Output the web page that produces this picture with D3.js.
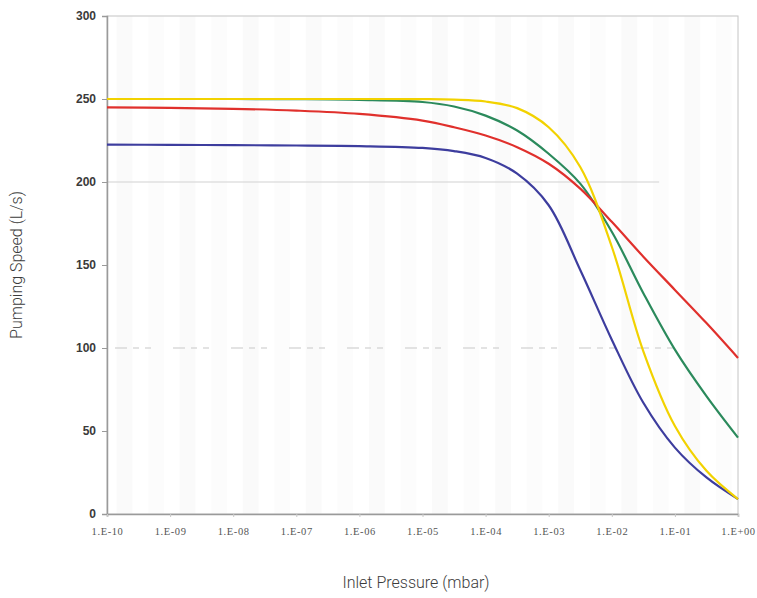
<!DOCTYPE html>
<html>
<head>
<meta charset="utf-8">
<script src="https://cdn.jsdelivr.net/npm/d3@7"></script>
<style>
  html, body { margin: 0; padding: 0; background: #fff; }
  svg { display: block; }
</style>
</head>
<body>
<svg id="chart" width="757" height="598"></svg>
<script>
// ---- data (log10 of inlet pressure in mbar) ----
const logPressure = [-10, -9, -8, -7, -6, -5, -4.5, -4, -3.5, -3, -2.5, -2, -1.5, -1, -0.5, 0];
const greenSpeed  = [250, 250, 250, 249.9, 249.5, 248.2, 245.5, 240, 231, 217, 199, 170, 133, 99, 71, 46];
const redSpeed    = [245, 244.6, 244.1, 243, 241, 237, 233, 228, 221, 211, 196, 176, 155, 135, 115, 94];
const blueSpeed   = [222.5, 222.4, 222.2, 222, 221.6, 220.5, 218.6, 214.5, 205, 186, 147, 105, 67, 40, 22, 9];
const yellowSpeed = [250, 250, 250, 250, 250, 249.9, 249.6, 248.5, 244.5, 233, 209, 161, 98, 53, 26, 9];
const seriesColors = ["#2b8a5c", "#e0302c", "#3d3d9e", "#f2d200"];
const yTicks = [0, 50, 100, 150, 200, 250, 300];
const xTickLabels = ["1.E-10","1.E-09","1.E-08","1.E-07","1.E-06","1.E-05","1.E-04","1.E-03","1.E-02","1.E-01","1.E+00"];

const series = [
  { name: "green", values: greenSpeed, color: seriesColors[0] },
  { name: "red", values: redSpeed, color: seriesColors[1] },
  { name: "blue", values: blueSpeed, color: seriesColors[2] },
  { name: "yellow", values: yellowSpeed, color: seriesColors[3] }
];

const svg = d3.select("#chart");
const m = { left: 107, right: 738, top: 16, bottom: 514 };

const x = d3.scaleLog().domain([1e-10, 1]).range([m.left, m.right]);
const y = d3.scaleLinear().domain([0, 300]).range([m.bottom, m.top]);

// faint background bands (scan texture)
const bandG = svg.append("g");
d3.range(-10, 0, 0.5).forEach((d, i) => {
  bandG.append("rect")
    .attr("x", x(Math.pow(10, d + 0.15)))
    .attr("y", m.top)
    .attr("width", 16)
    .attr("height", m.bottom - m.top)
    .attr("fill", "#000")
    .attr("opacity", i % 2 ? 0.01 : 0.018);
});

// plot border (top & right light)
svg.append("rect")
  .attr("x", m.left).attr("y", m.top)
  .attr("width", m.right - m.left).attr("height", m.bottom - m.top)
  .attr("fill", "none").attr("stroke", "#c4c4c4").attr("stroke-width", 1);

// grid-like lines
svg.append("line")
  .attr("x1", m.left).attr("x2", x(Math.pow(10, -1.25)))
  .attr("y1", y(200)).attr("y2", y(200))
  .attr("stroke", "#d2d2d2").attr("stroke-width", 1.2);
svg.append("line")
  .attr("x1", m.left + 8).attr("x2", x(Math.pow(10, -0.8)))
  .attr("y1", y(100)).attr("y2", y(100))
  .attr("stroke", "#c8c8c8").attr("stroke-width", 1.2)
  .attr("stroke-dasharray", "12,6,6,6,6,22");

// axes
const yAxis = d3.axisLeft(y).tickValues(yTicks).tickSize(5).tickPadding(6);
const gy = svg.append("g").attr("transform", `translate(${m.left},0)`).call(yAxis);
gy.select(".domain").attr("stroke", "#9a9a9a").attr("stroke-width", 1.5);
gy.selectAll(".tick line").attr("stroke", "#9a9a9a");
gy.selectAll("text")
  .attr("font-family", "Liberation Sans, Arial, sans-serif")
  .attr("font-size", 12).attr("font-weight", "bold").attr("fill", "#3a3a3a");

const xTickVals = d3.range(-10, 1).map(e => Math.pow(10, e));
const xAxis = d3.axisBottom(x).tickValues(xTickVals)
  .tickFormat((d, i) => xTickLabels[i]).tickSize(3).tickPadding(11);
const gx = svg.append("g").attr("transform", `translate(0,${m.bottom})`).call(xAxis);
gx.select(".domain").attr("stroke", "#9a9a9a").attr("stroke-width", 1.5);
gx.selectAll(".tick line").attr("stroke", "#c8c8c8");
gx.selectAll("text")
  .attr("font-family", "Liberation Serif, Times New Roman, serif")
  .attr("font-size", 10.5).attr("letter-spacing", 0.6).attr("fill", "#555");

// lines
const line = d3.line()
  .x((d, i) => x(Math.pow(10, logPressure[i])))
  .y(d => y(d))
  .curve(d3.curveCatmullRom.alpha(0.5));

svg.append("g").selectAll("path")
  .data(series)
  .join("path")
  .attr("d", d => line(d.values))
  .attr("fill", "none")
  .attr("stroke", d => d.color)
  .attr("stroke-width", 2.2);

// titles
svg.append("text")
  .attr("x", 416).attr("y", 588)
  .attr("text-anchor", "middle")
  .attr("font-family", "Roboto, sans-serif").attr("font-weight", 300)
  .attr("font-size", 16).attr("fill", "#3c3c3c")
  .text("Inlet Pressure (mbar)");

svg.append("text")
  .attr("transform", "translate(22,265) rotate(-90)")
  .attr("text-anchor", "middle")
  .attr("font-family", "Roboto, sans-serif").attr("font-weight", 300)
  .attr("font-size", 16).attr("fill", "#3c3c3c")
  .text("Pumping Speed (L/s)");
</script>
</body>
</html>
